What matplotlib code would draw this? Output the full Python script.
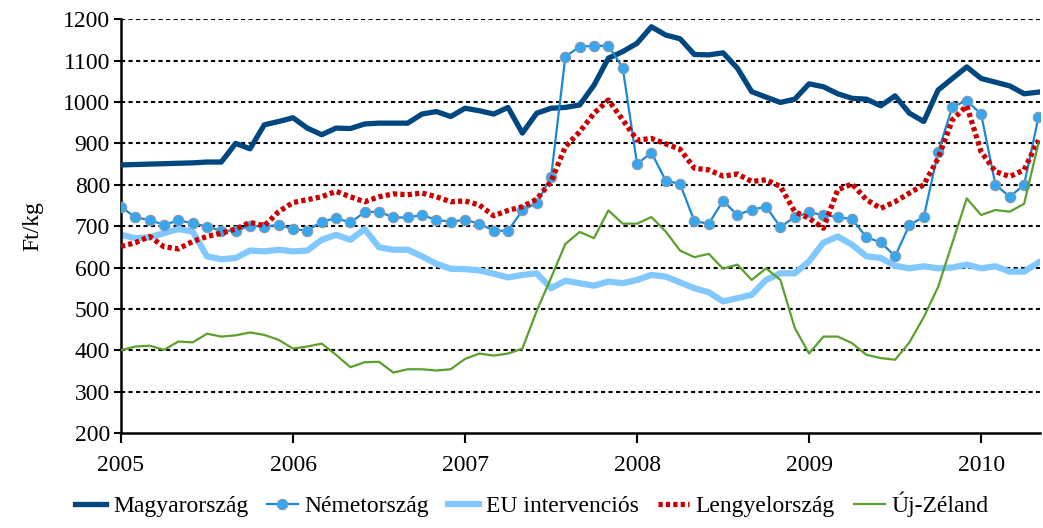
# monthly milk/cheese prices Jan 2005 - May 2010, Ft/kg
import matplotlib
matplotlib.use("Agg")
import matplotlib.pyplot as plt
import numpy as np

months = np.arange(65)  # 0 = Jan 2005
years = [2005, 2006, 2007, 2008, 2009, 2010]

magyar = [848, 849, 850, 851, 852, 853, 855, 855, 900, 887, 945, 953, 962, 937, 921, 937,
          936, 947, 949, 949, 949, 971, 977, 965, 985, 979, 971, 987, 925, 973, 985, 987,
          993, 1041, 1106, 1122, 1142, 1182, 1162, 1153, 1115, 1114, 1119, 1082, 1025, 1012,
          999, 1007, 1044, 1037, 1020, 1009, 1007, 991, 1015, 973, 953, 1029, 1057, 1085,
          1057, 1048, 1039, 1020, 1024]

nemet = [747, 721, 715, 703, 714, 707, 699, 689, 689, 701, 699, 703, 693, 689, 711, 719,
         709, 734, 735, 721, 721, 727, 715, 711, 715, 706, 689, 689, 738, 756, 818, 1110,
         1134, 1136, 1136, 1083, 850, 878, 810, 802, 712, 706, 761, 727, 740, 747, 698, 722,
         733, 727, 722, 717, 673, 661, 627, 703, 722, 879, 989, 1003, 971, 800, 771, 800, 963]

eu = [679, 671, 673, 683, 693, 687, 627, 620, 623, 641, 639, 643, 639, 641, 667, 679,
      667, 693, 649, 643, 643, 627, 609, 597, 596, 593, 585, 576, 582, 586, 550, 568,
      562, 556, 566, 562, 570, 582, 578, 564, 550, 540, 518, 526, 534, 570, 586, 586,
      615, 660, 675, 655, 627, 623, 604, 598, 603, 598, 600, 607, 598, 603, 590, 590, 612]

lengyel = [651, 660, 675, 650, 645, 663, 675, 683, 693, 709, 701, 735, 757, 764, 771, 784,
           771, 759, 771, 778, 776, 780, 771, 759, 761, 751, 725, 738, 747, 765, 808, 892,
           928, 973, 1005, 957, 908, 912, 899, 886, 840, 836, 821, 826, 808, 812, 796, 735,
           719, 695, 788, 802, 764, 743, 759, 780, 800, 864, 957, 991, 880, 832, 820, 836, 908]

ujzeland = [400, 409, 411, 401, 421, 419, 440, 433, 436, 443, 437, 425, 404, 409, 416, 389,
            359, 371, 372, 346, 354, 354, 351, 354, 379, 392, 387, 392, 404, 495, 575, 657,
            686, 671, 738, 706, 706, 722, 687, 641, 625, 633, 597, 607, 570, 598, 570, 454,
            392, 433, 433, 417, 389, 381, 377, 419, 480, 553, 660, 767, 727, 739, 735, 754, 900]

plt.rcParams['font.family'] = ['Liberation Serif', 'DejaVu Serif']
plt.rcParams['font.size'] = 17

fig = plt.figure(figsize=(10.43, 5.28), dpi=100)
ax = fig.add_axes([0.116, 0.18, 0.881, 0.7834])

ax.plot(months, magyar, color='#00467f', lw=3.8, label='Magyarország', zorder=3)
ax.plot(months, nemet, color='#1a88d6', lw=1.6, marker='o', ms=7.5,
        mfc='#35a6f0', mec='#8a9aa8', mew=0.8, label='Németország', zorder=4)
ax.plot(months, eu, color='#80c8ff', lw=4.5, label='EU intervenciós', zorder=2)
ax.plot(months, lengyel, color='#cc0000', lw=3.8, ls=(0, (0.8, 0.6)),
        dash_capstyle='butt', label='Lengyelország', zorder=5)
ax.plot(months, ujzeland, color='#5aa02c', lw=1.6, label='Új-Zéland', zorder=6)

ax.set_xlim(0, 64.1)
ax.set_ylim(200, 1200)
ax.set_xticks([12 * i for i in range(len(years))])
ax.set_xticklabels([str(y) for y in years])
ax.set_yticks(range(200, 1201, 100))
ax.tick_params(axis='x', length=7, width=1.5, pad=9)
ax.tick_params(axis='y', length=5, width=1.5, pad=3)

for v in range(300, 1201, 100):
    ax.axhline(v, color='black', lw=1.5, ls=(0, (2, 1.6)), zorder=1)

ax.spines['top'].set_visible(False)
ax.spines['right'].set_visible(False)
ax.spines['left'].set_linewidth(1.8)
ax.spines['bottom'].set_linewidth(1.8)

ax.set_ylabel('Ft/kg', labelpad=14)

fig.legend(loc='lower center', bbox_to_anchor=(0.51, -0.02), ncol=5, frameon=False,
           handlelength=1.3, columnspacing=0.8, handletextpad=0.3)

fig.savefig('out.png', dpi=100)
